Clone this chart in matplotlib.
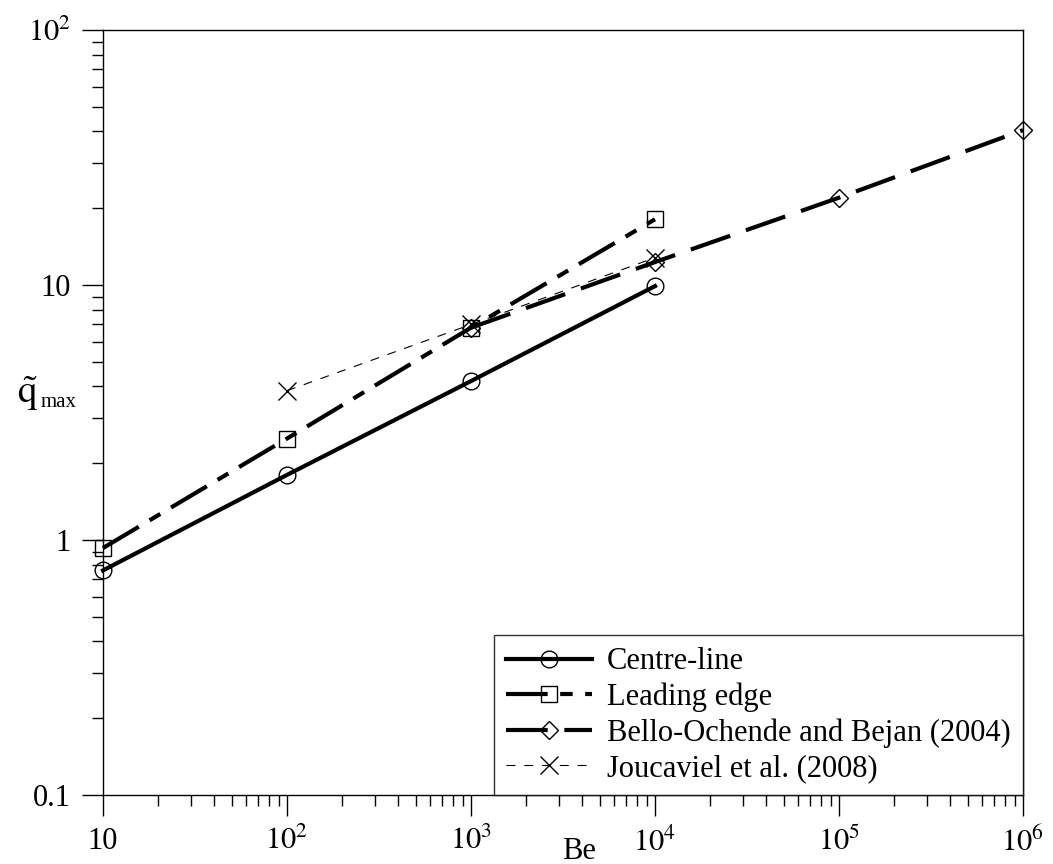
import numpy as np
import matplotlib
matplotlib.use("Agg")
import matplotlib.pyplot as plt
from matplotlib.ticker import FixedLocator, LogLocator, NullFormatter

plt.rcParams['font.family'] = ['Liberation Serif', 'DejaVu Serif']
plt.rcParams['mathtext.fontset'] = 'stix'

# data
be_centre = [10, 100, 1000, 10000]
q_centre = [0.76, 1.8, 4.2, 9.9]

be_leading = [10, 100, 1000, 10000]
q_leading = [0.93, 2.5, 6.8, 18.1]

be_bello = [1000, 10000, 100000, 1000000]
q_bello = [6.8, 12.3, 22.0, 40.5]

be_jouc = [100, 1000, 10000]
q_jouc = [3.85, 7.0, 12.8]

xtick_vals = [10, 1e2, 1e3, 1e4, 1e5, 1e6]
xtick_labels = ['10', '$10^2$', '$10^3$', '$10^4$', '$10^5$', '$10^6$']
ytick_vals = [0.1, 1, 10, 100]
ytick_labels = ['0.1', '1', '10', '$10^2$']

fig = plt.figure(figsize=(10.53, 8.64), dpi=100)
ax = fig.add_axes([103 / 1053, 1 - 795 / 864, 920 / 1053, 765 / 864])

ax.plot(be_centre, q_centre, color='black', lw=3, ls='-', marker='o', ms=12,
        mfc='none', mec='black', mew=1, label='Centre-line', clip_on=False)
ax.plot(be_leading, q_leading, color='black', lw=3, dashes=(10, 3, 3, 3), marker='s', ms=12,
        mfc='none', mec='black', mew=1, label='Leading edge', clip_on=False)
ax.plot(be_bello, q_bello, color='black', lw=3, dashes=(10, 4), marker='D', ms=9,
        mfc='none', mec='black', mew=1, label='Bello-Ochende and Bejan (2004)', clip_on=False)
ax.plot(be_jouc, q_jouc, color='black', lw=0.8, dashes=(8, 8), marker='x', ms=13,
        mfc='none', mec='black', mew=1, label='Joucaviel et al. (2008)', clip_on=False)

ax.set_xscale('log')
ax.set_yscale('log')
ax.set_xlim(10, 1e6)
ax.set_ylim(0.1, 100)

ax.xaxis.set_major_locator(FixedLocator(xtick_vals))
ax.set_xticklabels(xtick_labels)
ax.yaxis.set_major_locator(FixedLocator(ytick_vals))
ax.set_yticklabels(ytick_labels)
ax.xaxis.set_minor_locator(LogLocator(base=10, subs=np.arange(2, 10)))
ax.yaxis.set_minor_locator(LogLocator(base=10, subs=np.arange(2, 10)))
ax.xaxis.set_minor_formatter(NullFormatter())
ax.yaxis.set_minor_formatter(NullFormatter())

ax.tick_params(which='both', direction='out', top=False, right=False, labelsize=22, width=1)
ax.tick_params(which='major', length=15, pad=8)
ax.tick_params(which='minor', length=8)
for s in ax.spines.values():
    s.set_linewidth(1)

ax.set_xlabel('Be', fontsize=22)
ax.xaxis.set_label_coords(0.517, -0.055)

# y label: q-tilde with a small "max" subscript
ax.text(-0.082, 0.525, r'$\tilde{\mathrm{q}}$', transform=ax.transAxes,
        fontsize=28, ha='center', va='center')
ax.text(-0.068, 0.513, 'max', transform=ax.transAxes,
        fontsize=15, ha='left', va='center')

leg = ax.legend(loc='lower right', fontsize=22, frameon=True, fancybox=False,
                borderaxespad=0, handlelength=2.8, handletextpad=0.5,
                borderpad=0.4, labelspacing=0.2)
leg.get_frame().set_edgecolor('black')
leg.get_frame().set_linewidth(1)

fig.savefig('out.png', dpi=100)
